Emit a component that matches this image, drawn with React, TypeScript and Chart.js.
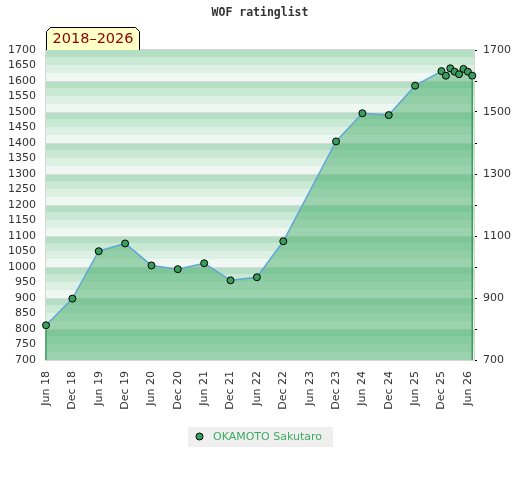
import React, { useEffect, useRef } from 'react';
import { Chart, registerables } from 'chart.js';

Chart.register(...registerables);

const TITLE = 'WOF ratinglist';
const PERIOD = '2018–2026';
const PLAYER = 'OKAMOTO Sakutaro';

// months counted from Jun 2018
const MONTHS = [0, 6, 12, 18, 24, 30, 36, 42, 48, 54, 66, 72, 78, 84, 90, 91, 92, 93, 94, 95, 96, 97];
const RATINGS = [812, 898, 1051, 1076, 1005, 993, 1012, 957, 967, 1083, 1405, 1496, 1490, 1585, 1632, 1617, 1641, 1630, 1622, 1639, 1630, 1617];

const X_TICKS = [0, 6, 12, 18, 24, 30, 36, 42, 48, 54, 60, 66, 72, 78, 84, 90, 96];
const X_LABELS = ['Jun 18', 'Dec 18', 'Jun 19', 'Dec 19', 'Jun 20', 'Dec 20', 'Jun 21', 'Dec 21', 'Jun 22', 'Dec 22', 'Jun 23', 'Dec 23', 'Jun 24', 'Dec 24', 'Jun 25', 'Dec 25', 'Jun 26'];
const X_MIN = 0;
const X_MAX = 97.4;
const Y_MIN = 700;
const Y_MAX = 1700;

const STRIPES = ['#b4dfc5', '#c9e9d5', '#dcf0e3', '#eef7f1'];
const POINT_COLOR = '#3a9f5c';
const LINE_COLOR = '#62a6d9';
const FILL_COLOR = 'rgba(64,169,99,0.47)';
const LEGEND_TEXT = '#3cab63';

const decor = {
  id: 'decor',
  beforeDatasetsDraw(chart: any) {
    const { ctx, chartArea: a, scales } = chart;
    const y = scales.y;
    ctx.save();
    for (let v = Y_MIN; v < Y_MAX; v += 100) {
      for (let i = 0; i < 4; i++) {
        const top = y.getPixelForValue(v + 100 - 25 * i);
        const bot = y.getPixelForValue(v + 75 - 25 * i);
        ctx.fillStyle = STRIPES[i];
        ctx.fillRect(a.left, top, a.width, bot - top);
      }
    }
    ctx.strokeStyle = '#dadada';
    ctx.lineWidth = 1;
    for (let v = Y_MIN + 100; v < Y_MAX; v += 100) {
      const py = Math.round(y.getPixelForValue(v)) + 0.5;
      ctx.beginPath();
      ctx.moveTo(a.left, py);
      ctx.lineTo(a.right, py);
      ctx.stroke();
    }
    ctx.strokeStyle = '#d6d6d6';
    ctx.strokeRect(a.left - 0.5, a.top - 0.5, a.width + 1, a.height + 1);
    ctx.restore();
  },
  afterDatasetsDraw(chart: any) {
    const { ctx, chartArea: a } = chart;
    const meta = chart.getDatasetMeta(0);
    const pts = [meta.data[0], meta.data[meta.data.length - 1]];
    ctx.save();
    ctx.strokeStyle = '#3a9d5d';
    ctx.lineWidth = 1.5;
    pts.forEach((p: any) => {
      ctx.beginPath();
      ctx.moveTo(p.x, p.y + 4);
      ctx.lineTo(p.x, a.bottom);
      ctx.stroke();
    });
    ctx.restore();
  },
  afterDraw(chart: any) {
    const { ctx, chartArea: a, width } = chart;
    ctx.save();
    // title
    ctx.fillStyle = '#333';
    ctx.font = 'bold 11.5px "DejaVu Sans Mono"';
    ctx.textAlign = 'center';
    ctx.textBaseline = 'middle';
    ctx.fillText(TITLE, width / 2, 13);

    // period box
    const bl = a.left, br = a.left + 94, bt = a.top - 23, bb = a.top;
    ctx.beginPath();
    ctx.moveTo(bl + 0.5, bb);
    ctx.lineTo(bl + 0.5, bt + 4.5);
    ctx.lineTo(bl + 4.5, bt + 0.5);
    ctx.lineTo(br - 4.5, bt + 0.5);
    ctx.lineTo(br - 0.5, bt + 4.5);
    ctx.lineTo(br - 0.5, bb);
    ctx.fillStyle = '#ffffc8';
    ctx.fill();
    ctx.strokeStyle = '#000';
    ctx.lineWidth = 1;
    ctx.stroke();
    ctx.fillStyle = '#8b0000';
    ctx.font = '14.5px "DejaVu Sans"';
    ctx.fillText(PERIOD, (bl + br) / 2, bt + 12.5);

    // legend
    const lx = 188, ly = 427, lw = 145, lh = 20;
    ctx.fillStyle = '#efefef';
    ctx.fillRect(lx, ly, lw, lh);
    ctx.beginPath();
    ctx.arc(lx + 11.5, ly + 9.5, 3.5, 0, Math.PI * 2);
    ctx.fillStyle = POINT_COLOR;
    ctx.fill();
    ctx.strokeStyle = '#000';
    ctx.stroke();
    ctx.fillStyle = LEGEND_TEXT;
    ctx.font = '11px "DejaVu Sans"';
    ctx.textAlign = 'left';
    ctx.fillText(PLAYER, lx + 25, ly + 10);
    ctx.restore();
  },
};

export default function App() {
  const ref = useRef<HTMLCanvasElement>(null);
  useEffect(() => {
    document.body.style.margin = '0';
    const chart = new Chart(ref.current!, {
      type: 'line',
      data: {
        datasets: [
          {
            label: PLAYER,
            data: MONTHS.map((m, i) => ({ x: m, y: RATINGS[i] })),
            borderColor: LINE_COLOR,
            borderWidth: 1.5,
            backgroundColor: FILL_COLOR,
            fill: 'start',
            tension: 0,
            pointRadius: 3.5,
            pointBackgroundColor: POINT_COLOR,
            pointBorderColor: '#000',
            pointBorderWidth: 1,
            clip: false as any,
          },
        ],
      },
      options: {
        animation: false,
        responsive: true,
        maintainAspectRatio: false,
        layout: { padding: { top: 50, bottom: 0, left: 0, right: 0 } },
        plugins: {
          legend: { display: false },
          title: { display: false },
          tooltip: { enabled: false },
        },
        scales: {
          x: {
            type: 'linear',
            min: X_MIN,
            max: X_MAX,
            grid: { display: false, drawTicks: false },
            border: { display: false },
            afterBuildTicks: (scale: any) => {
              scale.ticks = X_TICKS.map((v) => ({ value: v }));
            },
            afterFit: (scale: any) => {
              scale.height = 120;
            },
            ticks: {
              autoSkip: false,
              minRotation: 90,
              maxRotation: 90,
              padding: 11,
              color: '#333',
              font: { family: 'DejaVu Sans', size: 11 },
              callback: (v: any) => {
                const i = X_TICKS.indexOf(Number(v));
                return i >= 0 ? X_LABELS[i] : '';
              },
            },
          },
          y: {
            type: 'linear',
            position: 'left',
            min: Y_MIN,
            max: Y_MAX,
            grid: { display: false, drawTicks: false },
            border: { display: false },
            afterFit: (scale: any) => {
              scale.width = 46;
            },
            ticks: {
              stepSize: 50,
              autoSkip: false,
              padding: 10,
              color: '#333',
              font: { family: 'DejaVu Sans', size: 11 },
              callback: (v: any) => String(v),
            },
          },
          y2: {
            type: 'linear',
            position: 'right',
            min: Y_MIN,
            max: Y_MAX,
            grid: { display: true, drawOnChartArea: false, drawTicks: true, tickLength: 3, color: '#000' },
            border: { display: false },
            afterFit: (scale: any) => {
              scale.width = 46;
            },
            ticks: {
              stepSize: 100,
              autoSkip: false,
              padding: 6,
              color: '#333',
              font: { family: 'DejaVu Sans', size: 11 },
              callback: (v: any) => ((Number(v) - Y_MIN) % 200 === 0 ? String(v) : ''),
            },
          },
        },
      },
      plugins: [decor],
    });
    return () => chart.destroy();
  }, []);
  return (
    <div style={{ position: 'relative', width: 520, height: 480 }}>
      <canvas ref={ref} />
    </div>
  );
}
